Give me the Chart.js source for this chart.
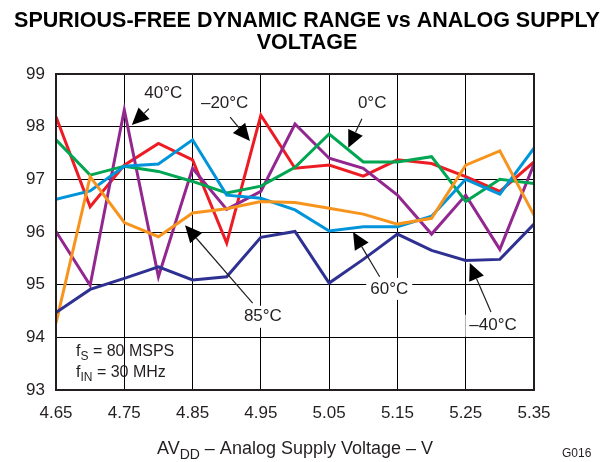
<!DOCTYPE html>
<html>
<head>
<meta charset="utf-8">
<script src="https://cdn.jsdelivr.net/npm/chart.js@4"></script>
<style>
html,body{margin:0;padding:0;background:#fff;}
canvas{display:block;}
</style>
</head>
<body>
<canvas id="sfdr" width="613" height="462"></canvas>
<script>

// supply voltage points (V)
const voltages = [4.65,4.70,4.75,4.80,4.85,4.90,4.95,5.00,5.05,5.10,5.15,5.20,5.25,5.30,5.35]
const xTicks = [4.65,4.75,4.85,4.95,5.05,5.15,5.25,5.35]
const yTicks = [93,94,95,96,97,98,99]

// SFDR (dBc) per temperature
const sfdrM40 = [94.47,94.91,95.12,95.34,95.09,95.15,95.90,96.01,95.03,95.48,95.96,95.65,95.46,95.48,96.15]
const sfdr85  = [94.27,97.05,96.18,95.91,96.36,96.44,96.58,96.56,96.45,96.34,96.15,96.26,97.27,97.54,96.32]
const sfdr60  = [96.62,96.78,97.25,97.29,97.75,96.70,96.64,96.42,96.02,96.10,96.10,96.30,97.00,96.72,97.59]
const sfdr0   = [97.75,97.08,97.25,97.15,96.96,96.74,96.87,97.23,97.86,97.33,97.33,97.43,96.58,97.00,96.92]
const sfdr40  = [96.01,94.99,98.32,95.15,97.21,96.43,96.77,98.05,97.40,97.21,96.70,95.96,96.70,95.67,97.29]
const sfdrM20 = [98.19,96.48,97.27,97.68,97.37,95.79,98.22,97.21,97.27,97.06,97.37,97.30,97.05,96.77,97.33]

// callouts: label position, arrow start, arrow tip (data units)
const callouts = [
  {text:"40°C",  lx:4.807, ly:98.64, sx:4.786, sy:98.34, tx:4.761, ty:98.03},
  {text:"–20°C", lx:4.897, ly:98.45, sx:4.905, sy:98.18, tx:4.934, ty:97.73},
  {text:"0°C",   lx:5.113, ly:98.45, sx:5.098, sy:98.15, tx:5.078, ty:97.60},
  {text:"85°C",  lx:4.953, ly:94.39, sx:4.938, sy:94.65, tx:4.839, ty:96.13},
  {text:"60°C",  lx:5.138, ly:94.92, sx:5.124, sy:95.15, tx:5.085, ty:96.00},
  {text:"–40°C", lx:5.290, ly:94.22, sx:5.287, sy:94.48, tx:5.256, ty:95.41}
]

const FONT = "'Liberation Sans', Arial, sans-serif"
const INK = "#231f20"

function pts(vals){
  return vals.map((v,i) => ({x:voltages[i], y:v}))
}

function serie(vals, color){
  return {data:pts(vals), borderColor:color, borderWidth:3, pointRadius:0, tension:0, fill:false}
}

// text with subscripts, parts = [[text, isSub], ...]
function richText(ctx, parts, x, y, size, align){
  const subSize = Math.round(size*0.78)
  let w = 0
  parts.forEach(p => {
    ctx.font = (p[1] ? subSize : size) + "px " + FONT
    w += ctx.measureText(p[0]).width
  })
  let cx = align == "center" ? x - w/2 : x
  ctx.textAlign = "left"
  ctx.textBaseline = "alphabetic"
  parts.forEach(p => {
    ctx.font = (p[1] ? subSize : size) + "px " + FONT
    ctx.fillText(p[0], cx, p[1] ? y + size*0.28 : y)
    cx += ctx.measureText(p[0]).width
  })
}

function arrow(ctx, x1, y1, x2, y2){
  const ang = Math.atan2(y2-y1, x2-x1)
  const len = 17, half = 8
  const bx = x2 - len*Math.cos(ang), by = y2 - len*Math.sin(ang)
  ctx.strokeStyle = INK
  ctx.lineWidth = 1.2
  ctx.beginPath()
  ctx.moveTo(x1,y1)
  ctx.lineTo(bx,by)
  ctx.stroke()
  ctx.fillStyle = "#000"
  ctx.beginPath()
  ctx.moveTo(x2,y2)
  ctx.lineTo(bx + half*Math.sin(ang), by - half*Math.cos(ang))
  ctx.lineTo(bx - half*Math.sin(ang), by + half*Math.cos(ang))
  ctx.closePath()
  ctx.fill()
}

const decorPlugin = {
  id:"decor",
  afterDatasetsDraw(chart){
    const ctx = chart.ctx
    const xs = chart.scales.x, ys = chart.scales.y
    const a = chart.chartArea
    ctx.save()

    // callout labels and arrows
    callouts.forEach(c => {
      ctx.font = "17px " + FONT
      const px = xs.getPixelForValue(c.lx), py = ys.getPixelForValue(c.ly)
      const w = ctx.measureText(c.text).width
      ctx.fillStyle = "#fff"
      ctx.fillRect(px - w/2 - 4, py - 11, w + 8, 22)
      ctx.fillStyle = INK
      ctx.textAlign = "center"
      ctx.textBaseline = "middle"
      ctx.fillText(c.text, px, py)
      arrow(ctx, xs.getPixelForValue(c.sx), ys.getPixelForValue(c.sy),
                 xs.getPixelForValue(c.tx), ys.getPixelForValue(c.ty))
    })

    // conditions box text
    ctx.fillStyle = INK
    richText(ctx, [["f",false],["S",true],[" = 80 MSPS",false]], a.left + 20, a.bottom - 34, 16, "left")
    richText(ctx, [["f",false],["IN",true],[" = 30 MHz",false]], a.left + 20, a.bottom - 13, 16, "left")

    // plot frame
    ctx.strokeStyle = INK
    ctx.lineWidth = 2
    ctx.strokeRect(a.left, a.top, a.right - a.left, a.bottom - a.top)

    // title
    ctx.fillStyle = "#000"
    ctx.font = "bold 21.5px " + FONT
    ctx.textAlign = "center"
    ctx.textBaseline = "alphabetic"
    ctx.fillText("SPURIOUS-FREE DYNAMIC RANGE vs ANALOG SUPPLY", 307, 27)
    ctx.fillText("VOLTAGE", 307, 49)

    // axis title
    ctx.fillStyle = INK
    richText(ctx, [["AV",false],["DD",true],[" – Analog Supply Voltage – V",false]], (a.left + a.right)/2, 454, 18, "center")

    ctx.font = "12px " + FONT
    ctx.textAlign = "left"
    ctx.fillText("G016", 562, 457)
    ctx.restore()
  }
}

new Chart(document.getElementById("sfdr"), {
  type:"line",
  data:{
    datasets:[
      serie(sfdrM40, "#2e3192"),
      serie(sfdr85, "#f7941d"),
      serie(sfdr60, "#0095da"),
      serie(sfdr0, "#00a651"),
      serie(sfdr40, "#92278f"),
      serie(sfdrM20, "#ed1c24")
    ]
  },
  options:{
    responsive:false,
    animation:false,
    events:[],
    layout:{padding:{top:74, right:79, left:0, bottom:0}},
    plugins:{legend:{display:false}, tooltip:{enabled:false}},
    scales:{
      x:{
        type:"linear",
        min:4.65, max:5.35,
        afterBuildTicks: s => { s.ticks = xTicks.map(v => ({value:v})) },
        afterFit: s => { s.height = 72 },
        grid:{color:"#000", lineWidth:1, drawTicks:false},
        border:{display:false},
        ticks:{
          autoSkip:false, maxRotation:0, padding:13,
          color:INK, font:{family:FONT, size:17},
          callback: v => Number(v).toFixed(2)
        }
      },
      y:{
        min:93, max:99,
        afterBuildTicks: s => { s.ticks = yTicks.map(v => ({value:v})) },
        afterFit: s => { s.width = 56 },
        grid:{color:"#000", lineWidth:1, drawTicks:false},
        border:{display:false},
        ticks:{padding:11, color:INK, font:{family:FONT, size:17}}
      }
    }
  },
  plugins:[decorPlugin]
})

</script>
</body>
</html>
